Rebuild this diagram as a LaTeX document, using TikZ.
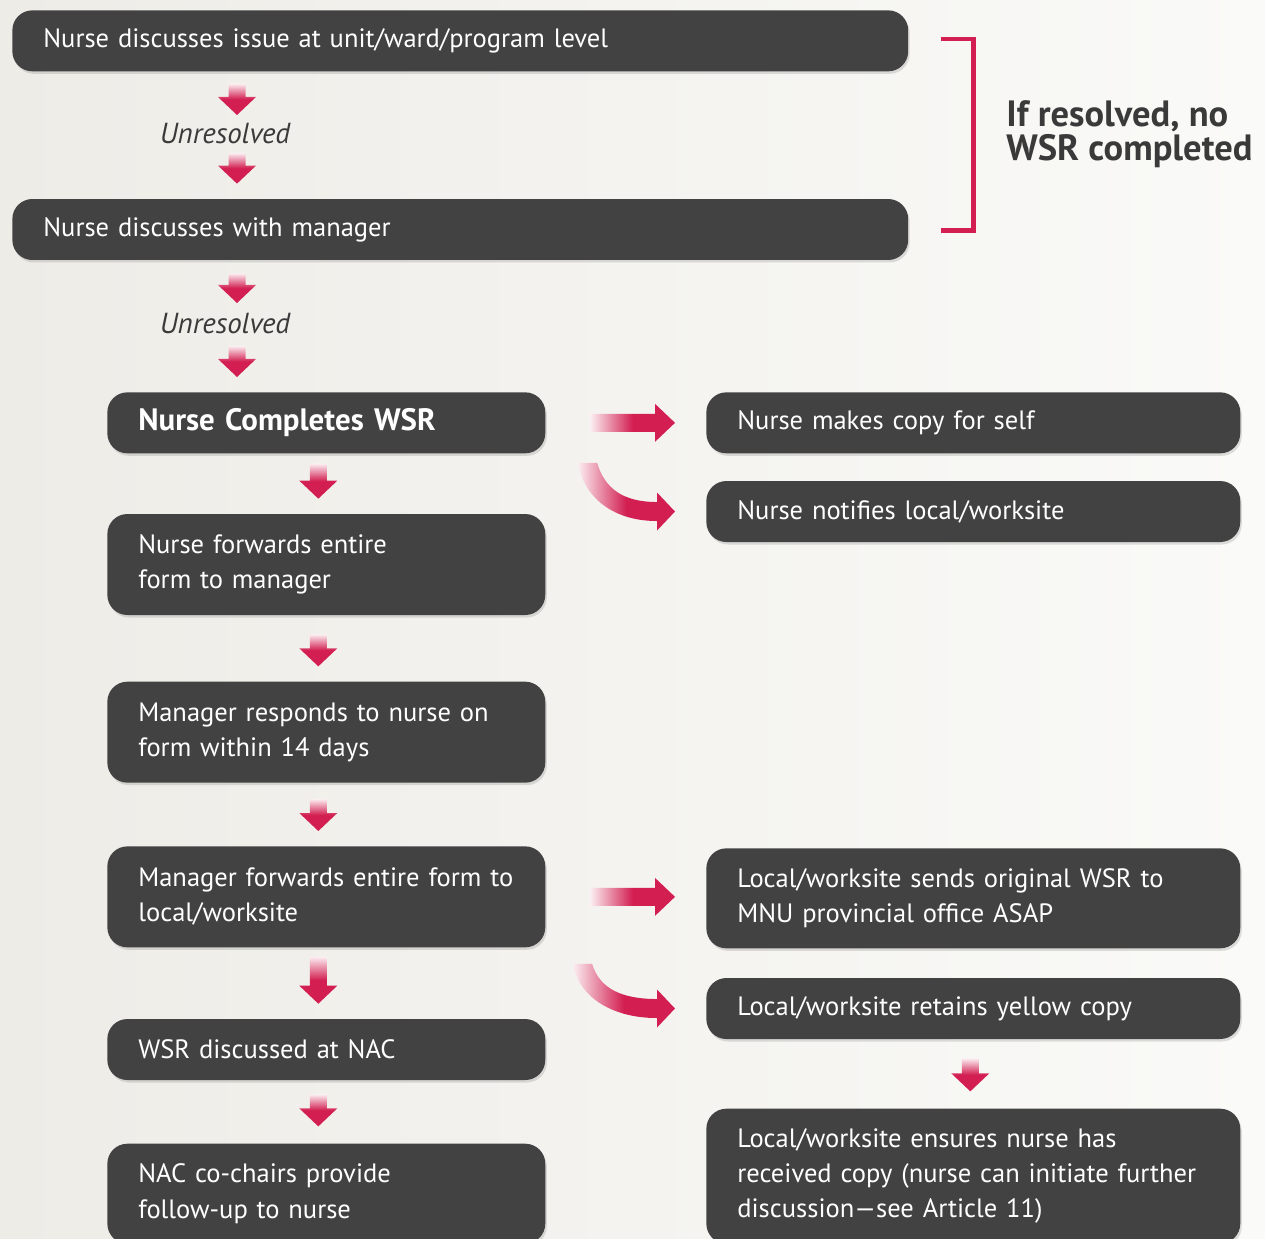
\documentclass[tikz,border=0pt]{standalone}
\usepackage{fontspec}
\setmainfont{PT Sans}
\usepackage{tikz}
\usetikzlibrary{shadows, positioning, calc}
\definecolor{wsr_red}{RGB}{210, 30, 80}
\definecolor{box_gray}{RGB}{66, 66, 66}
\definecolor{text_gray}{RGB}{58, 58, 58}
\definecolor{bg_left}{RGB}{238, 236, 231}
\definecolor{bg_right}{RGB}{250, 250, 248}
\tikzset {
  box/.style = {rectangle, rounded corners=0.4cm, fill=box_gray, text=white, align=left, inner xsep=0.62cm, inner ysep=0pt, font=\fontsize{15.1}{20}\selectfont, drop shadow={opacity=0.25, shadow xshift=0.03cm, shadow yshift=-0.05cm}},
  widebox/.style = {box, text width=16.68cm, minimum height=1.22cm},
  leftbox/.style = {box, text width=7.52cm, minimum height=1.22cm},
  rightbox/.style = {box, text width=9.44cm, minimum height=1.22cm},
  unres/.style = {text=text_gray, font=\fontsize{16.5}{20}\selectfont\itshape, inner sep=0pt},
  note/.style = {text=text_gray, align=left, font=\fontsize{20.8}{19.5}\selectfont\bfseries, inner sep=0pt},
  bracket/.style = {draw=wsr_red, line width=0.09cm},
  % arrow bodies are filled outlines, so the tail can fade out
  dnarrow/.style = {top color=wsr_red!8, bottom color=wsr_red, middle color=wsr_red,
    to path={let \p1=(\tikztostart), \p2=(\tikztotarget) in
      (\x1-0.17cm,\y1) -- (\x1+0.17cm,\y1) -- (\x1+0.17cm,\y2+0.36cm) -- (\x1+0.38cm,\y2+0.36cm)
      -- (\x1,\y2) -- (\x1-0.38cm,\y2+0.36cm) -- (\x1-0.17cm,\y2+0.36cm) -- cycle}},
  rtarrow/.style = {left color=wsr_red!8, right color=wsr_red, middle color=wsr_red,
    to path={let \p1=(\tikztostart), \p2=(\tikztotarget) in
      (\x1,\y1+0.18cm) -- (\x2-0.4cm,\y1+0.18cm) -- (\x2-0.4cm,\y1+0.38cm) -- (\x2,\y1)
      -- (\x2-0.4cm,\y1-0.38cm) -- (\x2-0.4cm,\y1-0.18cm) -- (\x1,\y1-0.18cm) -- cycle}},
  cvarrow/.style = {left color=wsr_red!8, right color=wsr_red, middle color=wsr_red,
    to path={let \p1=(\tikztostart), \p2=(\tikztotarget) in
      (\x1+0.19cm,\y1) .. controls (\x1+0.34cm,\y1-0.5cm) and (\x2-1.06cm,\y2+0.19cm) .. (\x2-0.36cm,\y2+0.19cm)
      -- (\x2-0.36cm,\y2+0.38cm) -- (\x2,\y2) -- (\x2-0.36cm,\y2-0.38cm) -- (\x2-0.36cm,\y2-0.19cm)
      .. controls (\x2-1.31cm,\y2-0.19cm) and (\x1-0.1cm,\y1-0.62cm) .. (\x1-0.19cm,\y1) -- cycle}}
}

\begin{document}
\begin{tikzpicture}[x=0.02cm, y=0.02cm]
    \useasboundingbox (0,0) rectangle (1265,-1239);
    \shade[left color=bg_left, right color=bg_right] (0,0) rectangle (1265,-1239);

    % discussion before a WSR
    \node[widebox, anchor=north west] (n1) at (12,-10) {Nurse discusses issue at unit/ward/program level};
    \node[widebox, below=2.54cm of n1] (n2) {Nurse discusses with manager};
    \node[unres] (u1) at (225,-134) {Unresolved};
    \node[unres] (u2) at (225,-324) {Unresolved};

    \draw[bracket] ($(n1.east)+(32,2)$) -- ++(33,0) |- ($(n2.east)+(32,-1)$);
    \node[note, anchor=west] (note) at (1006,-134) {If resolved, no\\WSR completed};

    % left column
    \node[leftbox, anchor=north west, font=\fontsize{17.6}{20}\selectfont\bfseries] (n3) at (107,-392) {Nurse Completes WSR};
    \node[leftbox, minimum height=2.02cm, below=1.2cm of n3] (n4) {Nurse forwards entire\\form to manager};
    \node[leftbox, minimum height=2.02cm, below=1.32cm of n4] (n5) {Manager responds to nurse on\\form within 14 days};
    \node[leftbox, minimum height=2.02cm, below=1.26cm of n5] (n6) {Manager forwards entire form to\\local/worksite};
    \node[leftbox, below=1.42cm of n6] (n7) {WSR discussed at NAC};
    \node[leftbox, minimum height=2cm, below=1.26cm of n7] (n8) {NAC co-chairs provide\\follow-up to nurse};

    % right column
    \node[rightbox, anchor=north west] (r1) at (706,-392) {Nurse makes copy for self};
    \node[rightbox, below=0.54cm of r1] (r2) {Nurse notifies local/worksite};
    \node[rightbox, minimum height=2cm, anchor=north west] (r3) at (706,-848) {Local/worksite sends original WSR to\\MNU provincial office ASAP};
    \node[rightbox, below=0.58cm of r3] (r4) {Local/worksite retains yellow copy};
    \node[rightbox, minimum height=2.7cm, below=1.38cm of r4] (r5) {Local/worksite ensures nurse has\\received copy (nurse can initiate further\\discussion---see Article 11)};

    \coordinate (c1) at ($(n3.east)+(42,-40)$);
    \coordinate (c2) at ($(n6.east)+(37,-67)$);

    % down arrows
    \path[dnarrow] ($(n1.south -| u1)+(12,-12)$) to ($(u1)+(12,19)$);
    \path[dnarrow] ($(u1)+(12,-19)$) to ($(n2.north -| u1)+(12,15)$);
    \path[dnarrow] ($(n2.south -| u2)+(12,-13)$) to ($(u2)+(12,21)$);
    \path[dnarrow] ($(u2)+(12,-22)$) to ($(n3.north -| u2)+(12,15)$);
    \path[dnarrow] ($(n3.south)+(-8,-10)$) to ($(n4.north)+(-8,15)$);
    \path[dnarrow] ($(n4.south)+(-8,-19)$) to ($(n5.north)+(-8,15)$);
    \path[dnarrow] ($(n5.south)+(-8,-16)$) to ($(n6.north)+(-8,15)$);
    \path[dnarrow] ($(n6.south)+(-8,-9)$) to ($(n7.north)+(-8,15)$);
    \path[dnarrow] ($(n7.south)+(-8,-14)$) to ($(n8.north)+(-8,17)$);
    \path[dnarrow] ($(r4.south)+(-3,-19)$) to ($(r5.north)+(-3,17)$);

    % side arrows
    \path[rtarrow] ($(n3.east)+(45,0)$) to ($(r1.west)+(-31,0)$);
    \path[cvarrow] (c1) to ($(r2.west)+(-31,0)$);
    \path[rtarrow] ($(n6.east)+(45,0)$) to ($(r3.west)+(-31,0)$);
    \path[cvarrow] (c2) to ($(r4.west)+(-31,0)$);
\end{tikzpicture}
\end{document}
